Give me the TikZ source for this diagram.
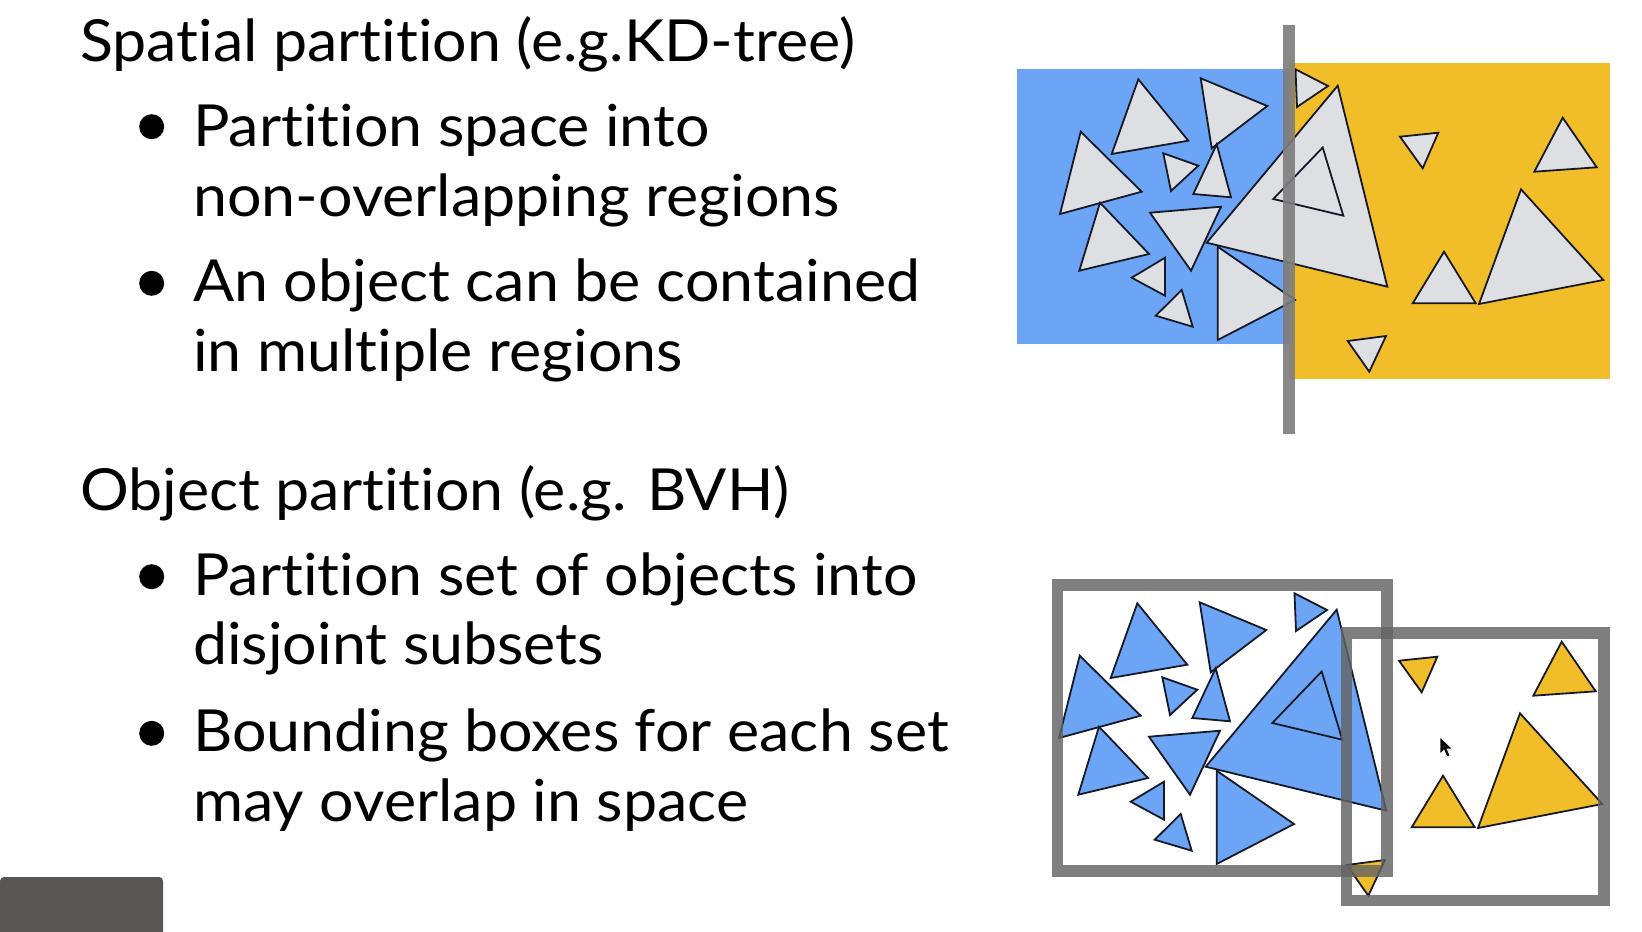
\documentclass[tikz,border=0pt]{standalone}
\usepackage{fontspec}
\setmainfont{Lato}[Ligatures=NoCommon, FakeStretch=1.05]
\usepackage{tikz}
\usetikzlibrary{positioning}

\definecolor{regionblue}{RGB}{108,165,245}
\definecolor{regionyellow}{RGB}{241,190,42}
\definecolor{trigray}{RGB}{221,223,227}
\definecolor{edgeink}{RGB}{22,26,40}
\definecolor{bargray}{RGB}{125,125,125}
\definecolor{splitgray}{RGB}{100,100,100}
\definecolor{camgray}{RGB}{88,86,82}

\newcommand{\lefttris}[1]{%
  \filldraw[#1] (1138.3,79.3) -- (1111.7,154) -- (1188.3,140.7) -- cycle;
  \filldraw[#1] (1200.7,78.3) -- (1267.3,106) -- (1211.7,148.3) -- cycle;
  \filldraw[#1] (1080.7,131.7) -- (1060,214) -- (1141.7,191.7) -- cycle;
  \filldraw[#1] (1163.3,153.3) -- (1198.3,165.7) -- (1171,191) -- cycle;
  \filldraw[#1] (1216.7,144.3) -- (1193.3,194) -- (1231,197.3) -- cycle;
  \filldraw[#1] (1100,202.7) -- (1079.3,270.7) -- (1149,254) -- cycle;
  \filldraw[#1] (1150,212.7) -- (1221,206.7) -- (1191,270.7) -- cycle;
  \filldraw[#1] (1165,257.7) -- (1131.7,277.7) -- (1165,295.7) -- cycle;
  \filldraw[#1] (1181.7,290) -- (1155.7,315.7) -- (1192.7,326.7) -- cycle;
  \filldraw[#1] (1217.7,246.7) -- (1217.7,340) -- (1295,300) -- cycle;
  \filldraw[#1] (1206.7,242.7) -- (1337.7,85.7) -- (1387.3,286.7) -- cycle;
  \filldraw[#1] (1273.3,199) -- (1322.7,147.5) -- (1343.3,215.7) -- cycle;
  \filldraw[#1] (1295.5,69.3) -- (1328,86) -- (1297,107) -- cycle;
}
\newcommand{\righttris}[1]{%
  \filldraw[#1] (1400,136.7) -- (1438.3,132.7) -- (1422.7,168.3) -- cycle;
  \filldraw[#1] (1562.7,117.7) -- (1534.3,171.7) -- (1596.7,167.3) -- cycle;
  \filldraw[#1] (1521,189.3) -- (1479,304) -- (1603.3,280) -- cycle;
  \filldraw[#1] (1444,251.7) -- (1412.7,303.3) -- (1475.7,303.3) -- cycle;
  \filldraw[#1] (1347.7,341) -- (1386,336) -- (1369.3,371.7) -- cycle;
}

\begin{document}
\begin{tikzpicture}[x=1pt, y=-1pt,
    txt/.style={anchor=base west, inner sep=0pt, font=\fontsize{58}{70}\selectfont},
    dot/.style={circle, fill=black, inner sep=0pt, minimum size=25pt},
    tri/.style={draw=edgeink, line width=1.8pt, line join=miter},
    graytri/.style={tri, fill=trigray},
    bluetri/.style={tri, fill=regionblue},
    yellowtri/.style={tri, fill=regionyellow},
    splitbar/.style={draw=bargray, line width=12pt, opacity=0.9},
    boundbox/.style={draw=splitgray, line width=11.7pt, opacity=0.82}]
  \useasboundingbox[fill=white] (0,0) rectangle (1642,932);

  \node[txt] (spatial) at (80,61) {Spatial partition (e.g.KD-tree)};
  \node[dot] (dotA) at (151.7,126.7) {};
  \node[txt] (partA) at (193,146.7) {Partition space into};
  \node[txt] (partB) at (193,216.7) {non-overlapping regions};
  \node[dot] (dotB) at (151.7,283.3) {};
  \node[txt] (multA) at (193,301.7) {An object can be contained};
  \node[txt] (multB) at (193,371.7) {in multiple regions};

  \node[txt] (object) at (80,510.7) {Object partition (e.g. BVH)};
  \node[dot] (dotC) at (151.7,576.7) {};
  \node[txt] (setA) at (193,595) {Partition set of objects into};
  \node[txt] (setB) at (193,664) {disjoint subsets};
  \node[dot] (dotD) at (151.7,733.3) {};
  \node[txt] (boxA) at (193,751) {Bounding boxes for each set};
  \node[txt] (boxB) at (193,821.7) {may overlap in space};

  \fill[regionblue] (1017,69.3) rectangle (1289,344);
  \fill[regionyellow] (1289,62.7) rectangle (1609.5,379);
  \lefttris{graytri}
  \righttris{graytri}
  \draw[splitbar] (1289,25) -- (1289,434);

  \begin{scope}[shift={(-1,524)}]
    \lefttris{bluetri}
    \righttris{yellowtri}
  \end{scope}
  \draw[boundbox] (1057.5,585) rectangle (1387,871);
  \draw[boundbox] (1346.5,633) rectangle (1604,900.5);

  \filldraw[fill=black, draw=white, line width=0.6pt] (1440,737) -- (1440,754) -- (1444,750)
    -- (1447,757) -- (1450,755.5) -- (1447,749) -- (1452.5,749) -- cycle;
  \fill[camgray, rounded corners=4pt] (0,877) rectangle (163,945);
\end{tikzpicture}
\end{document}
